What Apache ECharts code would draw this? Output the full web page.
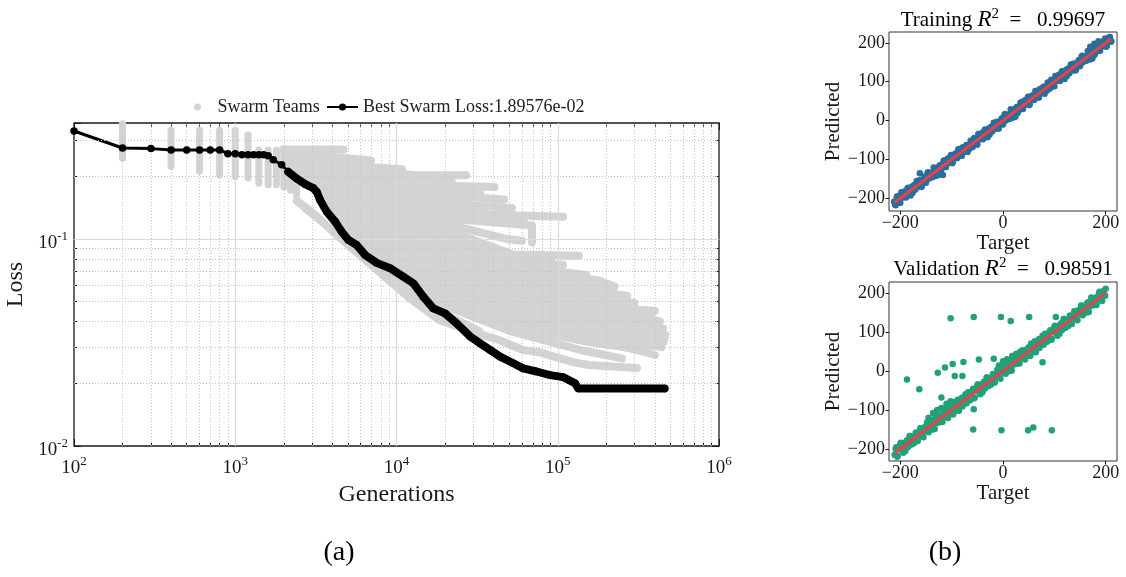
<!DOCTYPE html>
<html>
<head>
<meta charset="utf-8">
<script src="https://cdn.jsdelivr.net/npm/echarts@6/dist/echarts.min.js"></script>
<style>
  html, body { margin: 0; padding: 0; background: #fff; }
  #chart { width: 1126px; height: 577px; }
</style>
</head>
<body>
<div id="chart"></div>
<script>
// ---------------- (a) swarm optimisation history ----------------
const bestName = 'Best Swarm Loss:1.89576e-02';

// best-so-far loss of the swarm along the run
const bestGenerations = [100, 200, 300, 400, 500, 600, 700, 800, 900, 1000, 1100, 1200, 1300, 1400, 1500, 1600,
  1720, 1940, 2130, 2400, 2710, 3050, 3200, 3360, 3690, 4160, 4570, 5030, 5660, 6380, 7540, 9120, 11000, 12700,
  14650, 16900, 20000, 23600, 28600, 33000, 38000, 43900, 53000, 61100, 73900, 89500, 108000, 128000, 134000, 460000];
const bestLoss = [0.332, 0.275, 0.273, 0.269, 0.269, 0.269, 0.269, 0.269, 0.258, 0.258, 0.255, 0.255, 0.255, 0.255, 0.255, 0.252,
  0.241, 0.228, 0.211, 0.196, 0.184, 0.176, 0.169, 0.154, 0.1355, 0.1213, 0.1084, 0.0989, 0.0935, 0.0837, 0.0766, 0.0722, 0.0658, 0.0611,
  0.0526, 0.0462, 0.0437, 0.0391, 0.0338, 0.0313, 0.0291, 0.027, 0.0251, 0.0237, 0.0229, 0.022, 0.0215, 0.0201, 0.0189576, 0.0189576];

// early checkpoints: spread of team losses at each generation
const swarmColumnGens = [200, 400, 600, 800, 1000, 1200, 1400, 1600, 1800, 2000, 2200, 2400];
const swarmColumnHigh = [0.36, 0.335, 0.335, 0.335, 0.335, 0.3175, 0.2686, 0.2686, 0.2686, 0.2686, 0.2686, 0.2686];
const swarmColumnLow  = [0.245, 0.224, 0.212, 0.204, 0.2, 0.197, 0.186, 0.1826, 0.1826, 0.178, 0.172, 0.16];

// individual team trajectories [generation, loss]
const swarmTeams = [
  [[1980, 0.27], [4700, 0.27]],
  [[2190, 0.26], [3340, 0.252], [6950, 0.239]],
  [[2380, 0.244], [4450, 0.227], [10800, 0.217]],
  [[2450, 0.238], [4800, 0.218], [9000, 0.209], [16000, 0.2]],
  [[2520, 0.232], [5130, 0.21], [11300, 0.203], [27000, 0.203]],
  [[2600, 0.224], [5500, 0.2], [12500, 0.192], [22000, 0.19]],
  [[2520, 0.216], [5910, 0.193], [13900, 0.182], [40500, 0.178]],
  [[2650, 0.21], [6300, 0.185], [15000, 0.172], [33000, 0.166]],
  [[2710, 0.204], [6810, 0.178], [18400, 0.163], [46500, 0.155]],
  [[2800, 0.198], [7300, 0.17], [18400, 0.152], [30000, 0.145], [52000, 0.141]],
  [[2900, 0.193], [7850, 0.163], [18400, 0.143], [37500, 0.131], [108000, 0.128]],
  [[2900, 0.188], [8400, 0.155], [21000, 0.133], [45000, 0.122], [62000, 0.12]],
  [[2900, 0.182], [9050, 0.146], [24500, 0.124], [69200, 0.116], [69200, 0.096]],
  [[3000, 0.177], [9050, 0.138], [24500, 0.114], [48000, 0.1], [60000, 0.098]],
  [[3120, 0.172], [9050, 0.131], [24500, 0.105], [52800, 0.084], [135000, 0.083]],
  [[3230, 0.167], [9700, 0.124], [26000, 0.097], [58000, 0.08], [90000, 0.079]],
  [[3340, 0.163], [10430, 0.117], [28250, 0.09], [66300, 0.076], [108000, 0.075]],
  [[3340, 0.158], [10430, 0.111], [28250, 0.085], [70000, 0.072], [150000, 0.067]],
  [[3340, 0.154], [10430, 0.105], [28250, 0.081], [76500, 0.069], [179500, 0.063], [225000, 0.059]],
  [[3470, 0.15], [10800, 0.099], [30000, 0.078], [82000, 0.065], [200000, 0.057]],
  [[3600, 0.146], [11290, 0.094], [32560, 0.075], [88100, 0.061], [270000, 0.053]],
  [[3730, 0.142], [11600, 0.09], [32560, 0.07], [95000, 0.057], [220000, 0.05], [300000, 0.049]],
  [[3860, 0.138], [12030, 0.086], [32560, 0.065], [101600, 0.054], [238600, 0.046], [400000, 0.045]],
  [[4000, 0.134], [12500, 0.081], [35000, 0.061], [110000, 0.051], [260000, 0.044], [380000, 0.042]],
  [[4160, 0.131], [13000, 0.077], [37500, 0.058], [117000, 0.048], [275000, 0.043], [430000, 0.040]],
  [[4300, 0.126], [13400, 0.074], [39000, 0.055], [122000, 0.045], [300000, 0.04], [450000, 0.037]],
  [[4450, 0.121], [13900, 0.071], [40800, 0.052], [128000, 0.043], [317000, 0.038], [465000, 0.0344]],
  [[4600, 0.117], [14400, 0.068], [42000, 0.05], [131000, 0.04], [317000, 0.036], [460000, 0.033]],
  [[4790, 0.113], [15000, 0.065], [43300, 0.048], [135000, 0.038], [317000, 0.0344], [455000, 0.032]],
  [[4950, 0.108], [15500, 0.061], [45000, 0.045], [141000, 0.036], [360000, 0.031], [440000, 0.03]],
  [[5130, 0.1045], [16000, 0.058], [47100, 0.0415], [147600, 0.0344], [400000, 0.0275]],
  [[5500, 0.1], [16700, 0.055], [48500, 0.04], [151000, 0.033], [380000, 0.028]],
  [[5910, 0.095], [17330, 0.053], [49900, 0.038], [155700, 0.0318], [350000, 0.0291]],
  [[6300, 0.088], [18000, 0.049], [50000, 0.036], [140000, 0.029], [250000, 0.0265]],
  [[2410, 0.1526], [3035, 0.1335], [4040, 0.1081], [7570, 0.0708], [12030, 0.0519], [18430, 0.0406], [29800, 0.0355],
   [43290, 0.0325], [60900, 0.0291], [76500, 0.0284], [124300, 0.0254], [155700, 0.0246], [310000, 0.0238]],
  [[2710, 0.141], [3860, 0.113], [6810, 0.079], [10430, 0.06], [18430, 0.0444], [32560, 0.036]]
];

// axis ranges and ticks
const genMin = 100, genMax = 1000000;
const lossMin = 0.01, lossMax = 0.363;
const genMajorTicks = [100, 1000, 10000, 100000, 1000000];
const genMinorTicks = [200, 300, 400, 500, 600, 700, 800, 900,
  2000, 3000, 4000, 5000, 6000, 7000, 8000, 9000,
  20000, 30000, 40000, 50000, 60000, 70000, 80000, 90000,
  200000, 300000, 400000, 500000, 600000, 700000, 800000, 900000];
const lossMajorTicks = [0.01, 0.1];
const lossMinorTicks = [0.02, 0.03, 0.04, 0.05, 0.06, 0.07, 0.08, 0.09, 0.2, 0.3];

// ---------------- (b) parity plots ----------------
const targetTicks = [-200, 0, 200];
const predictedTicks = [-200, -100, 0, 100, 200];

const trainingPoints = [
  [-212,-209],[-209,-218],[-206,-195],[-203,-205],[-200,-212],[-197,-191],[-194,-194],[-191,-182],[-188,-194],[-185,-173],
  [-182,-186],[-179,-177],[-176,-186],[-173,-166],[-170,-171],[-167,-157],[-164,-171],[-161,-157],[-158,-169],[-155,-154],
  [-152,-144],[-149,-154],[-146,-133],[-143,-146],[-140,-135],[-137,-145],[-134,-124],[-131,-143],[-128,-128],[-125,-119],
  [-122,-131],[-119,-116],[-116,-105],[-113,-119],[-110,-111],[-107,-98],[-104,-108],[-101,-89],[-98,-108],[-95,-93],
  [-92,-85],[-89,-96],[-86,-88],[-83,-73],[-80,-91],[-77,-73],[-74,-79],[-71,-63],[-68,-67],[-65,-73],
  [-62,-59],[-59,-68],[-56,-45],[-53,-55],[-50,-62],[-47,-41],[-44,-44],[-41,-32],[-38,-44],[-35,-23],
  [-32,-36],[-29,-27],[-26,-36],[-23,-16],[-20,-21],[-17,-7],[-14,-21],[-11,-7],[-8,-19],[-5,-4],
  [-2,6],[1,-4],[4,17],[7,4],[10,15],[13,5],[16,26],[19,7],[22,22],[25,31],
  [28,19],[31,34],[34,45],[37,31],[40,39],[43,52],[46,42],[49,61],[52,42],[55,57],
  [58,65],[61,54],[64,62],[67,77],[70,59],[73,77],[76,71],[79,87],[82,83],[85,77],
  [88,91],[91,82],[94,105],[97,95],[100,88],[103,109],[106,106],[109,118],[112,106],[115,127],
  [118,114],[121,123],[124,114],[127,134],[130,129],[133,143],[136,129],[139,143],[142,131],[145,146],
  [148,156],[151,146],[154,167],[157,154],[160,165],[163,155],[166,176],[169,157],[172,172],[175,181],
  [178,169],[181,184],[184,195],[187,181],[190,189],[193,202],[196,192],[199,211],[202,192],[205,207],
  [208,215],[211,204],[-162,-136],[-117,-140],[170,190],[178,198],[186,204],
  [-210,-216],[-207,-199],[-204,-203],[-201,-212],[-198,-185],[-195,-198],[-192,-187],[-189,-198],[-186,-176],[-183,-184],
  [-180,-193],[-177,-170],[-174,-172],[-171,-178],[-168,-156],[-165,-169],[-162,-153],[-159,-171],[-156,-156],[-153,-147],
  [-150,-160],[-147,-136],[-144,-149],[-141,-138],[-138,-146],[-135,-121],[-132,-134],[-129,-125],[-126,-140],[-123,-115],
  [-120,-126],[-117,-116],[-114,-102],[-111,-120],[-108,-103],[-105,-108],[-102,-92],[-99,-110],[-96,-94],[-93,-86],
  [-90,-97],[-87,-74],[-84,-85],[-81,-91],[-78,-69],[-75,-79],[-72,-66],[-69,-81],[-66,-63],[-63,-52],
  [-60,-66],[-57,-49],[-54,-53],[-51,-62],[-48,-35],[-45,-48],[-42,-37],[-39,-48],[-36,-26],[-33,-34],
  [-30,-43],[-27,-20],[-24,-22],[-21,-28],[-18,-6],[-15,-19],[-12,-3],[-9,-21],[-6,-6],[-3,3],
  [0,-10],[3,14],[6,1],[9,12],[12,4],[15,29],[18,16],[21,25],[24,10],[27,35],
  [30,24],[33,34],[36,48],[39,30],[42,47],[45,42],[48,58],[51,40],[54,56],[57,64],
  [60,53],[63,76],[66,65],[69,59],[72,81],[75,71],[78,84],[81,69],[84,87],[87,98],
  [90,84],[93,101],[96,97],[99,88],[102,115],[105,102],[108,113],[111,102],[114,124],[117,116],
  [120,107],[123,130],[126,128],[129,122],[132,144],[135,131],[138,147],[141,129],[144,144],[147,153],
  [150,140],[153,164],[156,151],[159,162],[162,154],[165,179],[168,166],[171,175],[174,160],[177,185],
  [180,174],[183,184],[186,198],[189,180],[192,197],[195,192],[198,208],[201,190],[204,206],[207,214],[210,203]
];
const trainingFit = [[-211, -211], [210, 210]];

const validationPoints = [
  [-211,-215],[-208,-196],[-205,-218],[-202,-196],[-199,-184],[-196,-204],[-193,-191],[-190,-205],[-187,-178],[-184,-187],
  [-181,-167],[-178,-189],[-175,-170],[-172,-178],[-169,-158],[-166,-180],[-163,-162],[-160,-147],[-157,-166],[-154,-147],
  [-151,-153],[-148,-132],[-145,-157],[-142,-138],[-139,-146],[-136,-126],[-133,-149],[-130,-127],[-127,-115],[-124,-129],
  [-121,-113],[-118,-131],[-115,-115],[-112,-97],[-109,-119],[-106,-100],[-103,-106],[-100,-89],[-97,-112],[-94,-85],
  [-91,-92],[-88,-74],[-85,-93],[-82,-80],[-79,-91],[-76,-69],[-73,-60],[-70,-76],[-67,-62],[-64,-75],
  [-61,-65],[-58,-46],[-55,-68],[-52,-46],[-49,-34],[-46,-54],[-43,-41],[-40,-55],[-37,-28],[-34,-37],
  [-31,-17],[-28,-39],[-25,-20],[-22,-28],[-19,-8],[-16,-30],[-13,-12],[-10,3],[-7,-16],[-4,3],
  [-1,-3],[2,18],[5,-7],[8,12],[11,4],[14,24],[17,1],[20,23],[23,35],[26,21],
  [29,37],[32,19],[35,35],[38,53],[41,31],[44,50],[47,44],[50,61],[53,38],[56,65],
  [59,58],[62,76],[65,57],[68,70],[71,59],[74,81],[77,90],[80,74],[83,88],[86,75],
  [89,85],[92,104],[95,82],[98,104],[101,116],[104,96],[107,109],[110,95],[113,122],[116,113],
  [119,133],[122,111],[125,130],[128,122],[131,142],[134,120],[137,138],[140,153],[143,134],[146,153],
  [149,147],[152,168],[155,143],[158,162],[161,154],[164,174],[167,151],[170,173],[173,185],[176,171],
  [179,187],[182,169],[185,185],[188,203],[191,181],[194,200],[197,194],[200,211],
  [-136,-108],[-128,-100],[-120,-95],[-110,-84],[-102,-78],[-145,-120],
  [0,25],[8,30],[18,38],[26,44],[-8,14],[34,50],
  [-209,-200],[-206,-220],[-203,-200],[-200,-188],[-197,-203],[-194,-210],[-191,-184],[-188,-188],[-185,-195],[-182,-167],
  [-179,-182],[-176,-171],[-173,-185],[-170,-159],[-167,-175],[-164,-162],[-161,-147],[-158,-163],[-155,-170],[-152,-144],
  [-149,-150],[-146,-133],[-143,-152],[-140,-136],[-137,-150],[-134,-124],[-131,-135],[-128,-112],[-125,-132],[-122,-121],
  [-119,-130],[-116,-110],[-113,-101],[-110,-112],[-107,-121],[-104,-95],[-101,-107],[-98,-95],[-95,-80],[-92,-102],
  [-89,-82],[-86,-102],[-83,-83],[-80,-69],[-77,-82],[-74,-70],[-71,-83],[-68,-55],[-65,-68],[-62,-54],
  [-59,-50],[-56,-70],[-53,-50],[-50,-38],[-47,-53],[-44,-60],[-41,-34],[-38,-38],[-35,-45],[-32,-17],
  [-29,-32],[-26,-21],[-23,-35],[-20,-9],[-17,-25],[-14,-12],[-11,3],[-8,-13],[-5,-20],[-2,6],
  [1,0],[4,17],[7,-2],[10,14],[13,0],[16,26],[19,15],[22,38],[25,18],[28,29],
  [31,20],[34,40],[37,49],[40,38],[43,29],[46,55],[49,43],[52,55],[55,70],[58,48],
  [61,68],[64,48],[67,67],[70,81],[73,68],[76,80],[79,67],[82,95],[85,82],[88,96],
  [91,100],[94,80],[97,100],[100,112],[103,97],[106,90],[109,116],[112,112],[115,105],[118,133],
  [121,118],[124,129],[127,115],[130,141],[133,125],[136,138],[139,153],[142,137],[145,130],[148,156],
  [151,150],[154,167],[157,148],[160,164],[163,150],[166,176],[169,165],[172,188],[175,168],[178,179],
  [181,170],[184,190],[187,199],[190,188],[193,179],[196,205],[199,193]
];
const validationOutliers = [
  [-102,135],[-57,138],[-4,138],[15,128],[51,138],[103,138],
  [-187,-22],[-163,-47],[-127,-5],[-113,9],[-98,18],[-94,-13],[-79,-13],[-77,23],[-47,29],[-18,31],[77,22],
  [-120,-68],[-57,-98],[-58,-150],[-3,-152],[49,-152],[59,-145],[95,-152]
];
const validationFit = [[-210, -210], [200, 200]];

// ---------------- styling helpers ----------------
const FONT = '"Liberation Serif", "Times New Roman", serif';
const INK = '#1a1a1a';
const log10 = Math.log10;

function powerLabel(v) {
  const e = Math.log10(v);
  const r = Math.round(e);
  if (Math.abs(e - r) > 1e-6) return '';
  return '{b|10}{s|' + r + '}';
}
const powerRich = {
  b: { fontFamily: FONT, fontSize: 19, lineHeight: 26, color: INK },
  s: { fontFamily: FONT, fontSize: 13, lineHeight: 10, verticalAlign: 'top', color: INK }
};
const signed = v => (v < 0 ? '\u2212' + (-v) : String(v));

const tickLine = { color: INK, width: 1 };
function overlayAxis(grid, pos, min, max, values, len) {
  return {
    type: 'value', gridIndex: grid, position: pos, min: min, max: max,
    axisLine: { show: false, onZero: false },
    axisTick: { show: true, inside: true, length: len, lineStyle: tickLine, customValues: values.map(log10) },
    axisLabel: { show: false }, splitLine: { show: false }
  };
}

function parityXAxis(grid) {
  return {
    type: 'value', gridIndex: grid, min: -222, max: 222,
    name: 'Target', nameLocation: 'middle', nameGap: 18,
    nameTextStyle: { fontFamily: FONT, fontSize: 21, color: INK },
    axisLine: { show: false, onZero: false },
    axisTick: { show: true, length: 3.5, lineStyle: tickLine, customValues: targetTicks },
    axisLabel: { customValues: targetTicks, formatter: signed, fontFamily: FONT, fontSize: 18, color: INK, margin: 3 },
    splitLine: { show: false }
  };
}
function parityYAxis(grid, min, max) {
  return {
    type: 'value', gridIndex: grid, min: min, max: max,
    name: 'Predicted', nameLocation: 'middle', nameGap: 41,
    nameTextStyle: { fontFamily: FONT, fontSize: 21, color: INK },
    axisLine: { show: false, onZero: false },
    axisTick: { show: true, length: 3.5, lineStyle: tickLine, customValues: predictedTicks },
    axisLabel: { customValues: predictedTicks, formatter: signed, fontFamily: FONT, fontSize: 18, color: INK, margin: 4 },
    splitLine: { show: false }
  };
}

// light reference grid of the history panel
const dottedGrid = { type: [1, 2], color: '#c4c4c4', width: 1 };
const solidGrid = { type: 'solid', color: '#dadada', width: 1.2 };
const gridLineData = []
  .concat(genMinorTicks.map(v => ({ xAxis: v, lineStyle: dottedGrid })))
  .concat(lossMinorTicks.map(v => ({ yAxis: v, lineStyle: dottedGrid })))
  .concat(genMajorTicks.slice(1, -1).map(v => ({ xAxis: v, lineStyle: solidGrid })))
  .concat(lossMajorTicks.slice(1).map(v => ({ yAxis: v, lineStyle: solidGrid })));

const swarmColor = '#d3d3d3';
const swarmLine = { color: swarmColor, width: 8, cap: 'round', join: 'round' };

const series = [];
series.push({
  type: 'line', name: 'reference grid', xAxisIndex: 0, yAxisIndex: 0, data: [], silent: true, z: 0,
  markLine: { silent: true, symbol: ['none', 'none'], label: { show: false }, animation: false, data: gridLineData }
});
swarmColumnGens.forEach((g, i) => {
  series.push({
    type: 'line', name: 'Swarm Teams', xAxisIndex: 0, yAxisIndex: 0, silent: true, z: 1,
    data: [[g, swarmColumnHigh[i]], [g, swarmColumnLow[i]]],
    symbol: 'none', lineStyle: Object.assign({}, swarmLine, { width: 7 }), itemStyle: { color: swarmColor }
  });
});
swarmTeams.forEach(team => {
  series.push({
    type: 'line', name: 'Swarm Teams', xAxisIndex: 0, yAxisIndex: 0, silent: true, z: 1,
    data: team, symbol: 'none', lineStyle: swarmLine, itemStyle: { color: swarmColor }
  });
});
const bestPairs = bestGenerations.map((g, i) => [g, bestLoss[i]]);
series.push({
  type: 'line', name: bestName, xAxisIndex: 0, yAxisIndex: 0, silent: true, z: 4,
  data: bestPairs, symbol: 'none',
  itemStyle: { color: '#000' },
  lineStyle: { color: '#000', width: 3 }
});
series.push({
  type: 'scatter', name: 'best (markers)', xAxisIndex: 0, yAxisIndex: 0, silent: true, z: 5,
  data: bestPairs, symbol: 'circle', symbolSize: 7.5, itemStyle: { color: '#000', opacity: 1 }
});
series.push({
  type: 'line', name: 'best (dense)', xAxisIndex: 0, yAxisIndex: 0, silent: true, z: 5,
  data: bestPairs.filter(p => p[0] >= 2130), symbol: 'none',
  lineStyle: { color: '#000', width: 8, cap: 'round', join: 'round' }
});

// parity panels
series.push({
  type: 'scatter', name: 'training', xAxisIndex: 4, yAxisIndex: 4, silent: true, z: 2,
  data: trainingPoints, symbolSize: 6.5, itemStyle: { color: '#2b6d9b', opacity: 1 }
});
series.push({
  type: 'line', name: 'training fit', xAxisIndex: 4, yAxisIndex: 4, silent: true, z: 3,
  data: trainingFit, symbol: 'none', lineStyle: { color: '#e4434b', width: 3 }
});
series.push({
  type: 'scatter', name: 'validation', xAxisIndex: 5, yAxisIndex: 5, silent: true, z: 2,
  data: validationPoints.concat(validationOutliers), symbolSize: 6.5, itemStyle: { color: '#21a07a', opacity: 1 }
});
series.push({
  type: 'line', name: 'validation fit', xAxisIndex: 5, yAxisIndex: 5, silent: true, z: 3,
  data: validationFit, symbol: 'none', lineStyle: { color: '#e4434b', width: 3 }
});

const titleRich = {
  n: { fontFamily: FONT, fontSize: 21, lineHeight: 26, color: '#111' },
  i: { fontFamily: FONT, fontSize: 23, fontStyle: 'italic', lineHeight: 26, color: '#111' },
  s: { fontFamily: FONT, fontSize: 15, lineHeight: 12, verticalAlign: 'top', color: '#111' }
};
function textEl(x, y, text, extra) {
  return {
    type: 'text', x: x, y: y, silent: true,
    style: Object.assign({ text: text, align: 'center', verticalAlign: 'middle',
      textAlign: 'center', textVerticalAlign: 'middle', fill: '#000' }, extra)
  };
}

const option = {
  animation: false,
  backgroundColor: '#ffffff',
  textStyle: { fontFamily: FONT },
  legend: [
    {
      data: [{ name: 'Swarm Teams', icon: 'circle' }], left: 189, top: 93,
      itemWidth: 30, itemHeight: 7, selectedMode: false,
      textStyle: { fontFamily: FONT, fontSize: 18, color: '#222' }
    },
    {
      data: [bestName], left: 321, top: 93,
      itemWidth: 31, itemHeight: 9, selectedMode: false,
      textStyle: { fontFamily: FONT, fontSize: 18, color: '#222' }
    }
  ],
  grid: [
    { left: 74, top: 123, width: 645, height: 323, show: true, borderColor: INK, borderWidth: 1.3,
      containLabel: false, outerBoundsMode: 'none' },
    { left: 889, top: 32, width: 228, height: 179, show: true, borderColor: '#333', borderWidth: 1,
      containLabel: false, outerBoundsMode: 'none' },
    { left: 889, top: 282, width: 228, height: 179, show: true, borderColor: '#333', borderWidth: 1,
      containLabel: false, outerBoundsMode: 'none' }
  ],
  xAxis: [
    {
      type: 'log', logBase: 10, gridIndex: 0, min: genMin, max: genMax, position: 'bottom',
      name: 'Generations', nameLocation: 'middle', nameGap: 34,
      nameTextStyle: { fontFamily: FONT, fontSize: 24, color: INK },
      axisLine: { show: false, onZero: false },
      axisTick: { show: true, inside: true, length: 7, lineStyle: tickLine },
      axisLabel: { margin: 9, formatter: powerLabel, rich: powerRich, color: INK },
      splitLine: { show: false }
    },
    overlayAxis(0, 'bottom', log10(genMin), log10(genMax), genMinorTicks, 3.5),
    overlayAxis(0, 'top', log10(genMin), log10(genMax), genMajorTicks, 7),
    overlayAxis(0, 'top', log10(genMin), log10(genMax), genMinorTicks, 3.5),
    parityXAxis(1),
    parityXAxis(2)
  ],
  yAxis: [
    {
      type: 'log', logBase: 10, gridIndex: 0, min: lossMin, max: lossMax, position: 'left',
      name: 'Loss', nameLocation: 'middle', nameGap: 42,
      nameTextStyle: { fontFamily: FONT, fontSize: 24, color: INK },
      axisLine: { show: false, onZero: false },
      axisTick: { show: true, inside: true, length: 7, lineStyle: tickLine },
      axisLabel: { margin: 6, formatter: powerLabel, rich: powerRich, color: INK, padding: [9, 0, 0, 0] },
      splitLine: { show: false }
    },
    overlayAxis(0, 'left', log10(lossMin), log10(lossMax), lossMinorTicks, 3.5),
    overlayAxis(0, 'right', log10(lossMin), log10(lossMax), lossMajorTicks, 7),
    overlayAxis(0, 'right', log10(lossMin), log10(lossMax), lossMinorTicks, 3.5),
    parityYAxis(1, -233, 228),
    parityYAxis(2, -231, 228)
  ],
  graphic: [
    textEl(1003, 20, '{n|Training }{i|R}{s|2}{n|  =   0.99697}', { rich: titleRich }),
    textEl(1003, 269, '{n|Validation }{i|R}{s|2}{n|  =   0.98591}', { rich: titleRich }),
    textEl(339, 553, '(a)', { font: '28px "Liberation Serif", serif' }),
    textEl(945, 553, '(b)', { font: '28px "Liberation Serif", serif' })
  ],
  series: series
};

const chart = echarts.init(document.getElementById('chart'), null, { renderer: 'canvas' });
chart.setOption(option);
</script>
</body>
</html>
